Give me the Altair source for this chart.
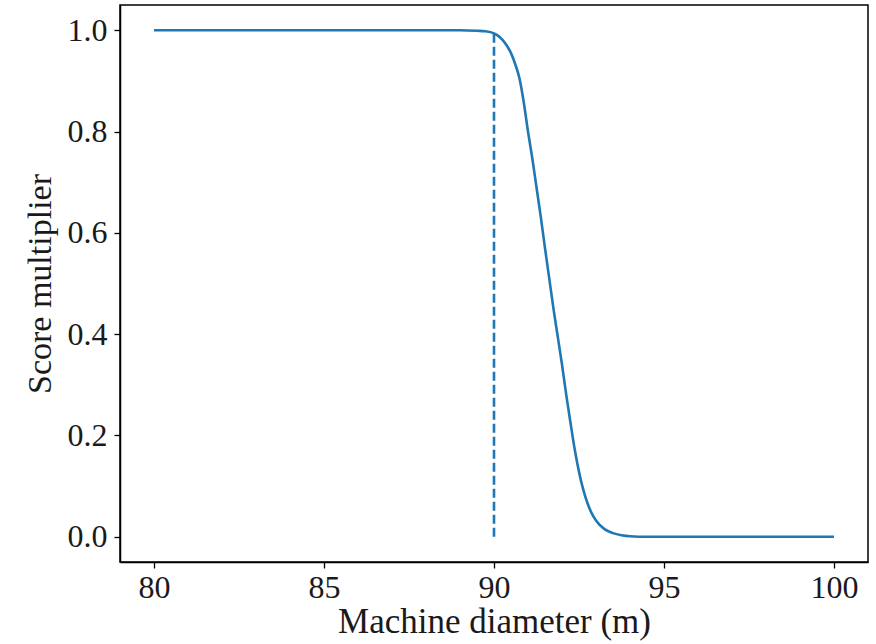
import altair as alt
import pandas as pd

diameter = [80, 82, 84, 86, 88, 89, 89.5, 89.75, 90.0, 90.125, 90.25, 90.375,
            90.5, 90.625, 90.75, 90.875, 91.0, 91.125, 91.25, 91.375, 91.5,
            91.625, 91.75, 91.875, 92.0, 92.125, 92.25, 92.375, 92.5, 92.625,
            92.75, 92.875, 93.0, 93.25, 93.5, 93.75, 94.0, 94.5, 95, 97, 100]
multiplier = [1, 1, 1, 1, 1, 1, 0.999, 0.998, 0.994, 0.989, 0.981, 0.970,
              0.955, 0.933, 0.905, 0.858, 0.80, 0.748, 0.69, 0.632, 0.57,
              0.51, 0.45, 0.395, 0.34, 0.28, 0.225, 0.172, 0.128, 0.093,
              0.066, 0.046, 0.032, 0.015, 0.007, 0.003, 0.001, 0, 0, 0, 0]
threshold_x = [90]
threshold_lo = [0]
threshold_hi = [1]

x_ticks = [80, 85, 90, 95, 100]
y_ticks = [0.0, 0.2, 0.4, 0.6, 0.8, 1.0]

curve = pd.DataFrame({"d": diameter, "m": multiplier})
thr = pd.DataFrame({"d": threshold_x, "lo": threshold_lo, "hi": threshold_hi})

FONT = "Liberation Serif"
BLUE = "#1f77b4"

xscale = alt.Scale(domain=[79, 101], nice=False, zero=False)
yscale = alt.Scale(domain=[-0.05, 1.05], nice=False, zero=False)

line = alt.Chart(curve).mark_line(color=BLUE, strokeWidth=2.6, interpolate="monotone").encode(
    x=alt.X("d:Q", scale=xscale, title="Machine diameter (m)",
            axis=alt.Axis(values=x_ticks, format="d", grid=False)),
    y=alt.Y("m:Q", scale=yscale, title="Score multiplier",
            axis=alt.Axis(values=y_ticks, format=".1f", grid=False)),
)

rule = alt.Chart(thr).mark_rule(color=BLUE, strokeWidth=2.6, strokeDash=[9, 4]).encode(
    x=alt.X("d:Q", scale=xscale),
    y=alt.Y("lo:Q", scale=yscale),
    y2="hi:Q",
)

chart = (line + rule).properties(
    width=748,
    height=557,
    autosize=alt.AutoSizeParams(type="none"),
    padding={"left": 120, "top": 5, "right": 8, "bottom": 82},
    background="white",
).configure_view(
    stroke="black", strokeWidth=1.5
).configure_axis(
    domainColor="black", domainWidth=1.5,
    tickColor="black", tickWidth=1.3, tickSize=6,
    labelFont=FONT, labelFontSize=32, labelColor="#1a1a1a",
    titleFont=FONT, titleFontWeight="normal", titleColor="#1a1a1a",
).configure_axisX(
    labelPadding=4, titleFontSize=35, titlePadding=1,
).configure_axisY(
    labelPadding=7, titleFontSize=34, titlePadding=10,
)

chart.save("out.html", embed_options={"renderer": "svg", "actions": False})
